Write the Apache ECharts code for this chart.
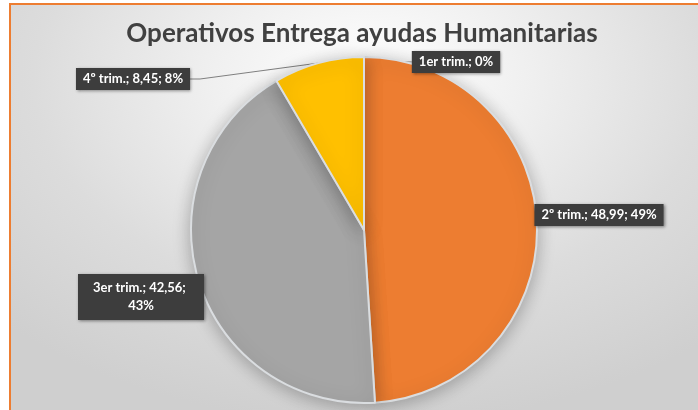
<!DOCTYPE html>
<html>
<head>
<meta charset="utf-8">
<script src="https://cdn.jsdelivr.net/npm/echarts@6/dist/echarts.min.js"></script>
<style>
  html, body { margin: 0; padding: 0; background: #ffffff; }
  #bg {
    position: absolute; left: 9px; top: 3px; width: 689px; height: 407px;
    border-top: 2px solid #ED7D31; border-left: 2px solid #ED7D31;
    background: radial-gradient(ellipse 75% 85% at 52% 18%, #ffffff 0%, #f0f0f0 30%, #dcdcdc 65%, #cfcfcf 100%);
  }
  #main { position: absolute; left: 0; top: 0; width: 698px; height: 410px; }
</style>
</head>
<body>
<div id="bg"></div>
<div id="main"></div>
<script>
const titleText = 'Operativos Entrega ayudas Humanitarias';
const categories = ['1er trim.', '2º trim.', '3er trim.', '4º trim.'];
const values = [0, 48.99, 42.56, 8.45];
const sliceColors = ['#4472C4', '#ED7D31', '#A5A5A5', '#FFC000'];

const labelAnchors = { 0: [456, 62], 1: [599, 215], 2: [141, 297], 3: [133, 79] };
const hideLine = { 1: true, 2: true };

function fmt(v) { return String(v).replace('.', ','); }

const chart = echarts.init(document.getElementById('main'));
chart.setOption({
  backgroundColor: 'transparent',
  animation: false,
  title: {
    text: titleText,
    left: 357,
    top: 16,
    textAlign: 'center',
    textStyle: { fontFamily: 'Lato', fontSize: 26, fontWeight: 'bold', color: '#404040' }
  },
  series: [{
    type: 'pie',
    center: [364, 230],
    radius: 173,
    startAngle: 90,
    clockwise: true,
    minShowLabelAngle: 0,
    avoidLabelOverlap: false,
    itemStyle: {
      borderColor: '#dadde0',
      borderWidth: 2,
      shadowBlur: 18,
      shadowColor: 'rgba(0,0,0,0.28)',
      shadowOffsetY: 3
    },
    label: {
      show: true,
      position: 'outside',
      formatter: function (p) {
        return p.name + '; ' + (p.value === 0 ? '' : fmt(p.value) + '; ') + Math.round(p.percent) + '%';
      },
      color: '#ffffff',
      fontFamily: 'Lato',
      fontWeight: 'bold',
      fontSize: 13,
      lineHeight: 18,
      align: 'center',
      backgroundColor: '#3d3d3d',
      padding: [2, 7],
      shadowBlur: 3,
      shadowColor: 'rgba(0,0,0,0.45)',
      shadowOffsetX: 1,
      shadowOffsetY: 1
    },
    labelLine: {
      show: true,
      length: 10,
      length2: 10,
      lineStyle: { color: '#7f7f7f', width: 1 }
    },
    labelLayout: function (params) {
      const pos = labelAnchors[params.dataIndex];
      return { x: pos[0], y: pos[1], align: 'center', verticalAlign: 'middle' };
    },
    data: categories.map(function (name, i) {
      const item = { name: name, value: values[i], itemStyle: { color: sliceColors[i] } };
      if (hideLine[i]) item.labelLine = { show: false };
      if (i === 2) item.label = { width: 112, overflow: 'break', padding: [5, 7] };
      return item;
    })
  }]
});
</script>
</body>
</html>
